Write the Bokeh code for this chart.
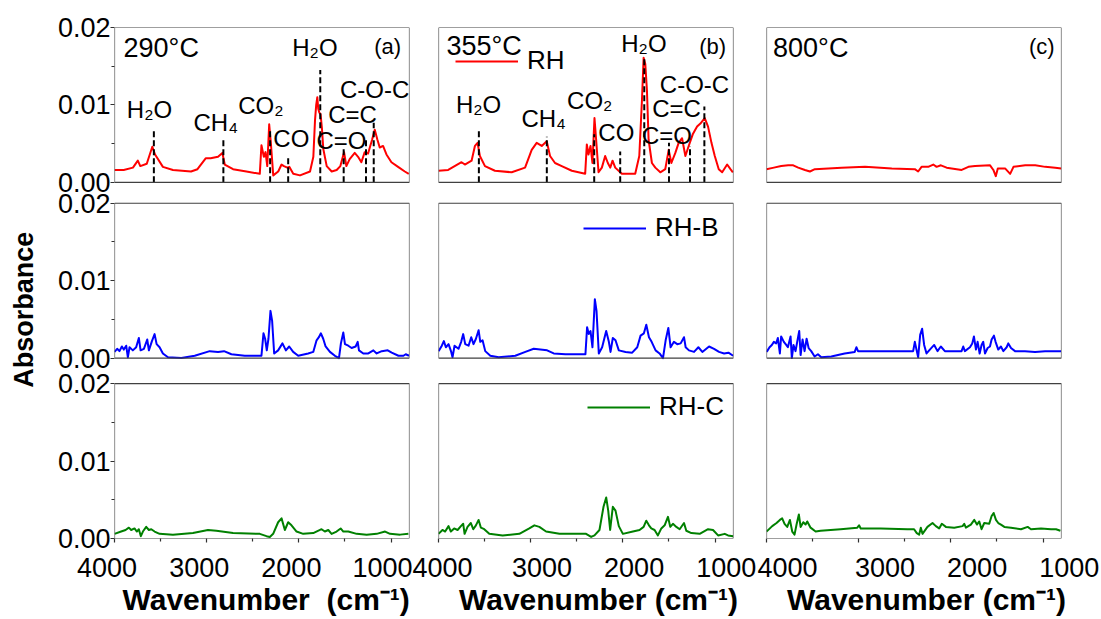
import math
from bokeh.plotting import figure
from bokeh.models import (Range1d, FixedTicker, Label, Legend, LegendItem,
                          BoxAnnotation)
from bokeh.layouts import row
from bokeh.embed import file_html
from bokeh.resources import INLINE

FONT = "Liberation Sans"
NB = "\u00a0"

# ---------------- chart values ----------------
X_TICKS = [4000, 3000, 2000, 1000]
X_TICK_LABELS = ["4000", "3000", "2000", "1000"]
X_MINOR = [3500, 2500, 1500]
Y_TICKS = [0.0, 0.01, 0.02]
Y_TICK_LABELS = ["0.00", "0.01", "0.02"]
Y_MINOR = [0.005, 0.015]

temperatures = ["290°C", "355°C", "800°C"]
panel_tags = ["(a)", "(b)", "(c)"]
samples = ["RH", "RH-B", "RH-C"]
colors = ["#ff0000", "#0000ff", "#008000"]
x_title = ["Wavenumber", "(cm⁻¹)"]
y_title = "Absorbance"

# (wavenumber cm-1, absorbance)
RH_290 = [(4000, 0.0016), (3900, 0.0016), (3800, 0.0019), (3747, 0.0028), (3720, 0.0021),
          (3650, 0.0024), (3590, 0.0046), (3560, 0.0036), (3475, 0.0020), (3366, 0.0016),
          (3170, 0.0014), (3100, 0.0017), (3011, 0.0031), (2957, 0.0031), (2877, 0.0033),
          (2830, 0.0038), (2804, 0.0023), (2714, 0.0017), (2569, 0.0014), (2424, 0.0011),
          (2406, 0.0048), (2380, 0.0033), (2362, 0.0039), (2343, 0.0021), (2322, 0.0075),
          (2304, 0.0051), (2278, 0.0009), (2224, 0.0014), (2188, 0.0023), (2162, 0.0021),
          (2126, 0.0019), (2104, 0.0020), (2061, 0.0011), (1988, 0.0009), (1879, 0.0014),
          (1843, 0.0033), (1825, 0.0080), (1812, 0.0100), (1800, 0.0110), (1790, 0.0095),
          (1778, 0.0090), (1765, 0.0088), (1750, 0.0070), (1735, 0.0043), (1698, 0.0021),
          (1644, 0.0014), (1590, 0.0016), (1550, 0.0021), (1510, 0.0039), (1485, 0.0021),
          (1449, 0.0030), (1394, 0.0038), (1358, 0.0033), (1322, 0.0026), (1286, 0.0039),
          (1250, 0.0037), (1206, 0.0055), (1177, 0.0068), (1148, 0.0055), (1123, 0.0045),
          (1087, 0.0047), (1050, 0.0036), (996, 0.0026), (924, 0.0020), (851, 0.0014),
          (808, 0.0011)]
RH_355 = [(4000, 0.0015), (3895, 0.0016), (3750, 0.0026), (3714, 0.0023), (3641, 0.0028),
          (3605, 0.0047), (3576, 0.0051), (3551, 0.0034), (3496, 0.0021), (3388, 0.0015),
          (3206, 0.0013), (3061, 0.0019), (2989, 0.0042), (2935, 0.0051), (2880, 0.0047),
          (2826, 0.0053), (2790, 0.0034), (2736, 0.0025), (2663, 0.0021), (2554, 0.0015),
          (2409, 0.0011), (2391, 0.0049), (2373, 0.0036), (2351, 0.0047), (2330, 0.0025),
          (2308, 0.0083), (2290, 0.0055), (2264, 0.0013), (2228, 0.0019), (2192, 0.0034),
          (2163, 0.0025), (2137, 0.0019), (2112, 0.0028), (2083, 0.0019), (2011, 0.0011),
          (1866, 0.0011), (1822, 0.0034), (1793, 0.0106), (1775, 0.0161), (1757, 0.0153),
          (1739, 0.0119), (1721, 0.0055), (1685, 0.0025), (1648, 0.0019), (1594, 0.0013),
          (1540, 0.0017), (1503, 0.0042), (1474, 0.0025), (1431, 0.0038), (1395, 0.0051),
          (1358, 0.0057), (1322, 0.0034), (1286, 0.0047), (1242, 0.0062), (1195, 0.0072),
          (1159, 0.0076), (1112, 0.0083), (1076, 0.0072), (1039, 0.0051), (1003, 0.0034),
          (960, 0.0017), (923, 0.0013), (869, 0.0023), (833, 0.0017), (807, 0.0013)]
RH_800 = [(4000, 0.0017), (3920, 0.0019), (3840, 0.0021), (3765, 0.0022), (3710, 0.0022),
          (3656, 0.0019), (3583, 0.0016), (3529, 0.0014), (3475, 0.0017), (3330, 0.0018),
          (3185, 0.0019), (2931, 0.0020), (2641, 0.0018), (2391, 0.0017), (2355, 0.0014),
          (2318, 0.0020), (2246, 0.0020), (2191, 0.0023), (2155, 0.0020), (2108, 0.0022),
          (2046, 0.0019), (1883, 0.0016), (1810, 0.0020), (1738, 0.0021), (1575, 0.0022),
          (1539, 0.0016), (1513, 0.0008), (1491, 0.0018), (1412, 0.0018), (1357, 0.0011),
          (1321, 0.0020), (1194, 0.0022), (1085, 0.0022), (976, 0.0020), (868, 0.0019),
          (803, 0.0018)]
RHB_290 = [(4000, 0.0008), (3971, 0.0012), (3946, 0.0009), (3920, 0.0015), (3899, 0.0011),
           (3873, 0.0016), (3855, 0.0001), (3837, 0.0014), (3801, 0.0010), (3765, 0.0014),
           (3736, 0.0026), (3717, 0.0010), (3681, 0.0012), (3645, 0.0024), (3627, 0.0010),
           (3594, 0.0022), (3565, 0.0031), (3543, 0.0018), (3511, 0.0014), (3475, 0.0006),
           (3420, 0.0001), (3275, 0.0000), (3130, 0.0003), (2967, 0.0009), (2877, 0.0008),
           (2812, 0.0009), (2732, 0.0005), (2587, 0.0003), (2406, 0.0003), (2384, 0.0032),
           (2366, 0.0025), (2348, 0.0010), (2330, 0.0025), (2308, 0.0061), (2290, 0.0048),
           (2268, 0.0006), (2225, 0.0010), (2178, 0.0019), (2141, 0.0010), (2105, 0.0015),
           (2062, 0.0008), (2007, 0.0003), (1899, 0.0006), (1844, 0.0008), (1808, 0.0023),
           (1783, 0.0027), (1761, 0.0032), (1736, 0.0025), (1710, 0.0015), (1663, 0.0008),
           (1609, 0.0003), (1565, 0.0000), (1544, 0.0019), (1518, 0.0033), (1500, 0.0018),
           (1464, 0.0016), (1428, 0.0013), (1384, 0.0015), (1362, 0.0021), (1348, 0.0010),
           (1301, 0.0006), (1247, 0.0006), (1192, 0.0010), (1156, 0.0006), (1101, 0.0009),
           (1036, 0.0010), (993, 0.0007), (920, 0.0003), (866, 0.0003), (841, 0.0005),
           (805, 0.0003)]
RHB_355 = [(4000, 0.0009), (3993, 0.0010), (3964, 0.0016), (3942, 0.0022), (3920, 0.0014),
           (3891, 0.0018), (3862, 0.0008), (3848, 0.0001), (3826, 0.0016), (3783, 0.0012),
           (3754, 0.0021), (3732, 0.0031), (3710, 0.0018), (3674, 0.0016), (3645, 0.0027),
           (3620, 0.0018), (3594, 0.0025), (3565, 0.0036), (3547, 0.0021), (3522, 0.0023),
           (3493, 0.0009), (3438, 0.0003), (3348, 0.0001), (3167, 0.0003), (3058, 0.0008),
           (2967, 0.0012), (2895, 0.0011), (2822, 0.0010), (2750, 0.0006), (2623, 0.0005),
           (2406, 0.0005), (2388, 0.0040), (2370, 0.0031), (2351, 0.0035), (2330, 0.0014),
           (2304, 0.0076), (2286, 0.0061), (2261, 0.0006), (2225, 0.0014), (2181, 0.0035),
           (2152, 0.0021), (2134, 0.0008), (2109, 0.0026), (2080, 0.0023), (2044, 0.0010),
           (1971, 0.0008), (1899, 0.0007), (1844, 0.0014), (1808, 0.0029), (1772, 0.0032),
           (1746, 0.0043), (1717, 0.0027), (1688, 0.0021), (1645, 0.0010), (1602, 0.0006),
           (1565, 0.0000), (1536, 0.0023), (1507, 0.0039), (1482, 0.0014), (1446, 0.0021),
           (1410, 0.0018), (1373, 0.0019), (1337, 0.0027), (1319, 0.0014), (1283, 0.0010),
           (1228, 0.0008), (1181, 0.0014), (1138, 0.0008), (1065, 0.0015), (1011, 0.0012),
           (957, 0.0008), (902, 0.0006), (855, 0.0007), (804, 0.0003)]
RHB_800 = [(4000, 0.0008), (3993, 0.0009), (3967, 0.0014), (3942, 0.0017), (3920, 0.0021),
           (3895, 0.0019), (3877, 0.0026), (3855, 0.0006), (3841, 0.0028), (3812, 0.0021),
           (3786, 0.0017), (3768, 0.0014), (3739, 0.0028), (3725, 0.0000), (3707, 0.0017),
           (3685, 0.0009), (3667, 0.0021), (3645, 0.0035), (3630, 0.0004), (3609, 0.0024),
           (3587, 0.0009), (3565, 0.0025), (3543, 0.0013), (3515, 0.0009), (3478, 0.0002),
           (3442, 0.0005), (3406, 0.0001), (3297, 0.0002), (3152, 0.0006), (3043, 0.0008),
           (3025, 0.0014), (3007, 0.0009), (2826, 0.0009), (2572, 0.0009), (2409, 0.0009),
           (2391, 0.0021), (2373, 0.0011), (2355, 0.0001), (2333, 0.0030), (2312, 0.0038),
           (2290, 0.0017), (2264, 0.0006), (2228, 0.0011), (2181, 0.0017), (2145, 0.0009),
           (2109, 0.0015), (2065, 0.0009), (1957, 0.0009), (1884, 0.0009), (1866, 0.0015),
           (1848, 0.0009), (1793, 0.0014), (1768, 0.0019), (1750, 0.0028), (1728, 0.0011),
           (1710, 0.0021), (1688, 0.0006), (1667, 0.0017), (1649, 0.0021), (1630, 0.0006),
           (1601, 0.0013), (1576, 0.0015), (1558, 0.0024), (1533, 0.0029), (1515, 0.0021),
           (1486, 0.0011), (1457, 0.0015), (1431, 0.0009), (1395, 0.0014), (1377, 0.0019),
           (1348, 0.0013), (1304, 0.0009), (1196, 0.0009), (1087, 0.0008), (978, 0.0009),
           (870, 0.0009), (805, 0.0009)]
RHC_290 = [(4000, 0.0006), (3928, 0.0009), (3880, 0.0011), (3844, 0.0014), (3819, 0.0011),
           (3783, 0.0013), (3757, 0.0009), (3736, 0.0012), (3714, 0.0003), (3692, 0.0009),
           (3656, 0.0015), (3627, 0.0011), (3601, 0.0012), (3565, 0.0009), (3511, 0.0006),
           (3366, 0.0005), (3149, 0.0007), (2986, 0.0011), (2895, 0.0010), (2714, 0.0007),
           (2424, 0.0006), (2351, 0.0003), (2315, 0.0002), (2279, 0.0006), (2225, 0.0021),
           (2188, 0.0026), (2152, 0.0011), (2116, 0.0021), (2080, 0.0017), (2025, 0.0009),
           (1953, 0.0006), (1844, 0.0007), (1754, 0.0012), (1718, 0.0009), (1681, 0.0011),
           (1645, 0.0006), (1591, 0.0009), (1547, 0.0013), (1518, 0.0009), (1464, 0.0009),
           (1373, 0.0006), (1265, 0.0005), (1156, 0.0006), (1065, 0.0009), (1011, 0.0006),
           (902, 0.0005), (812, 0.0006)]
RHC_355 = [(4000, 0.0006), (3957, 0.0011), (3928, 0.0009), (3891, 0.0016), (3866, 0.0009),
           (3830, 0.0013), (3793, 0.0011), (3757, 0.0016), (3732, 0.0019), (3717, 0.0006),
           (3685, 0.0015), (3649, 0.0020), (3623, 0.0012), (3594, 0.0017), (3565, 0.0024),
           (3540, 0.0014), (3504, 0.0012), (3449, 0.0006), (3304, 0.0004), (3123, 0.0006),
           (3015, 0.0013), (2960, 0.0017), (2906, 0.0015), (2833, 0.0009), (2688, 0.0006),
           (2399, 0.0006), (2344, 0.0002), (2308, 0.0004), (2254, 0.0011), (2210, 0.0041),
           (2181, 0.0053), (2159, 0.0036), (2138, 0.0011), (2109, 0.0041), (2080, 0.0036),
           (2044, 0.0016), (2000, 0.0006), (1891, 0.0009), (1819, 0.0011), (1775, 0.0015),
           (1746, 0.0023), (1717, 0.0017), (1692, 0.0013), (1656, 0.0011), (1620, 0.0004),
           (1583, 0.0013), (1547, 0.0017), (1511, 0.0028), (1486, 0.0015), (1457, 0.0019),
           (1420, 0.0015), (1384, 0.0012), (1337, 0.0020), (1312, 0.0010), (1257, 0.0007),
           (1167, 0.0006), (1076, 0.0012), (1022, 0.0011), (967, 0.0004), (895, 0.0006),
           (859, 0.0004), (804, 0.0003)]
RHC_800 = [(4000, 0.0009), (3938, 0.0016), (3891, 0.0020), (3855, 0.0024), (3830, 0.0026),
           (3804, 0.0019), (3775, 0.0015), (3746, 0.0024), (3721, 0.0009), (3696, 0.0005),
           (3674, 0.0018), (3649, 0.0031), (3630, 0.0015), (3601, 0.0021), (3576, 0.0018),
           (3558, 0.0022), (3522, 0.0014), (3467, 0.0009), (3413, 0.0010), (3196, 0.0012),
           (3015, 0.0014), (2996, 0.0017), (2978, 0.0013), (2761, 0.0013), (2471, 0.0012),
           (2399, 0.0012), (2370, 0.0007), (2344, 0.0005), (2326, 0.0014), (2308, 0.0006),
           (2254, 0.0015), (2199, 0.0020), (2163, 0.0016), (2127, 0.0013), (2098, 0.0019),
           (2054, 0.0015), (1964, 0.0014), (1873, 0.0016), (1855, 0.0019), (1837, 0.0014),
           (1783, 0.0018), (1746, 0.0024), (1717, 0.0018), (1692, 0.0022), (1667, 0.0012),
           (1638, 0.0020), (1584, 0.0019), (1558, 0.0029), (1536, 0.0033), (1511, 0.0024),
           (1486, 0.0020), (1457, 0.0018), (1420, 0.0015), (1348, 0.0014), (1239, 0.0012),
           (1167, 0.0015), (1131, 0.0012), (1022, 0.0013), (913, 0.0012), (859, 0.0012),
           (812, 0.0010)]

spectra = [[RH_290, RH_355, RH_800],
           [RHB_290, RHB_355, RHB_800],
           [RHC_290, RHC_355, RHC_800]]

# assigned bands (RH panels a and b)
band_names = ["H₂O", "CH₄", "CO₂", "CO", "H₂O", "C=O", "C=C", "C-O-C"]
band_wn_290 = [3573, 2819, 2312, 2116, 1768, 1514, 1272, 1188]
band_top_290 = [0.0067, 0.0058, 0.0069, 0.0035, 0.0145, 0.0043, 0.0056, 0.0077]
band_label_wn_290 = [3620, 2902, 2413, 2082, 1826, 1538, 1418, 1179]
band_label_ab_290 = [0.0094, 0.0077, 0.0099, 0.0056, 0.0174, 0.0054, 0.0087, 0.0120]
band_wn_355 = [3562, 2825, 2311, 2029, 1768, 1500, 1272, 1116]
band_top_355 = [0.0070, 0.0059, 0.0062, 0.0040, 0.0159, 0.0051, 0.0047, 0.0098]
band_label_wn_355 = [3565, 2859, 2359, 2071, 1772, 1522, 1418, 1223]
band_label_ab_355 = [0.0100, 0.0083, 0.0106, 0.0064, 0.0179, 0.0061, 0.0096, 0.0127]

bands = {0: (band_wn_290, band_top_290, band_label_wn_290, band_label_ab_290),
         1: (band_wn_355, band_top_355, band_label_wn_355, band_label_ab_355)}

temp_pos = [(3902, 0.0173), (3913, 0.0176), (3929, 0.0173)]
tag_pos = [(891, 0.0176), (880, 0.0176), (875, 0.0176)]

# ---------------- layout ----------------
X_START, X_END = 4000, 800
PANEL_SPAN = 0.02                      # absorbance span of one panel
ROW_OFFSET = [0.0460, 0.0233, 0.0]     # vertical stacking of the three rows
Y_TOP = ROW_OFFSET[0] + PANEL_SPAN

TITLE_W = 40
COL_L = [74, 26, 9]
COL_R = [3, 24, 39]
FRAME_W = 295
TOP_B = 27
BOTTOM_B = 75
FRAME_H = 516
FIG_H = TOP_B + FRAME_H + BOTTOM_B
LEG_LOC = [(17, 462), (145, 295), (149, 116)]

# nbsp padding of tick labels (lead, trail) per column, per tick
TICK_PAD = [[(0, 2), (0, 2), (0, 2), (0, 0)],
            [(0, 0), (3, 0), (3, 0), (3, 0)],
            [(0, 0), (7, 0), (7, 0), (7, 0)]]
TITLE_LEAD = [1, 3, 3]


def style_axis(ax):
    ax.axis_line_color = None
    ax.major_tick_line_color = "#303030"
    ax.minor_tick_line_color = "#303030"
    ax.major_tick_line_width = 1.2
    ax.minor_tick_line_width = 1.2
    ax.major_tick_in = 0
    ax.major_tick_out = 4
    ax.minor_tick_in = 0
    ax.minor_tick_out = 3
    ax.major_label_text_font = FONT
    ax.major_label_text_font_size = "27px"
    ax.major_label_text_color = "black"


def column_figure(c):
    p = figure(width=COL_L[c] + FRAME_W + COL_R[c], height=FIG_H,
               x_range=Range1d(X_START, X_END), y_range=Range1d(0, Y_TOP),
               output_backend="svg", toolbar_location=None,
               x_axis_location="below",
               y_axis_location="left" if c == 0 else None,
               min_border_left=COL_L[c], min_border_right=COL_R[c],
               min_border_top=TOP_B, min_border_bottom=BOTTOM_B)
    p.grid.visible = False
    p.outline_line_color = None
    p.background_fill_color = "white"
    p.border_fill_color = "white"

    # x axis (bottom row only)
    ax = p.xaxis[0]
    style_axis(ax)
    ax.ticker = FixedTicker(ticks=X_TICKS, minor_ticks=X_MINOR)
    ax.major_label_overrides = {
        t: NB * pad[0] + lab + NB * pad[1]
        for t, lab, pad in zip(X_TICKS, X_TICK_LABELS, TICK_PAD[c])}
    ax.major_label_standoff = 10
    sep = NB + " " if c == 0 else " "
    ax.axis_label = NB * TITLE_LEAD[c] + x_title[0] + sep + x_title[1]
    ax.axis_label_text_font = FONT
    ax.axis_label_text_font_size = "30px"
    ax.axis_label_text_font_style = "bold"
    ax.axis_label_text_color = "black"
    ax.axis_label_standoff = -3

    # y axis (left column only), one 0-0.02 scale per row
    if c == 0:
        ay = p.yaxis[0]
        style_axis(ay)
        ticks, minors, overrides = [], [], {}
        for off in ROW_OFFSET:
            for t, lab in zip(Y_TICKS, Y_TICK_LABELS):
                v = round(off + t, 6)
                ticks.append(v)
                overrides[v] = lab
            for m in Y_MINOR:
                minors.append(round(off + m, 6))
        ay.ticker = FixedTicker(ticks=ticks, minor_ticks=minors)
        ay.major_label_overrides = overrides
        ay.major_label_standoff = 0

    for r in range(3):
        off = ROW_OFFSET[r]
        p.add_layout(BoxAnnotation(left=X_END, right=X_START, bottom=off,
                                   top=off + PANEL_SPAN, fill_alpha=0,
                                   line_color="#404040", line_width=1.2,
                                   line_alpha=1.0))
        data = spectra[r][c]
        wn = [d[0] for d in data]
        ab = [d[1] + off for d in data]
        ren = p.line(wn, ab, line_color=colors[r], line_width=2, line_join="round")

        if r == 0 and c in bands:
            lw, lt, tw, ta = bands[c]
            p.segment(x0=lw, y0=[off] * len(lw), x1=lw, y1=[t + off for t in lt],
                      line_color="black", line_width=2, line_dash="6 3")
            for name, x, y in zip(band_names, tw, ta):
                p.add_layout(Label(x=x, y=y + off, text=name, text_font=FONT,
                                   text_font_size="24px", text_color="black",
                                   text_align="center", text_baseline="middle"))
        if r == 0:
            tx, ty = temp_pos[c]
            p.add_layout(Label(x=tx, y=ty + off, text=temperatures[c], text_font=FONT,
                               text_font_size="27px", text_color="black",
                               text_align="left", text_baseline="middle"))
            gx, gy = tag_pos[c]
            p.add_layout(Label(x=gx, y=gy + off, text=panel_tags[c], text_font=FONT,
                               text_font_size="22px", text_color="black",
                               text_align="right", text_baseline="middle"))
        if c == 1:
            leg = Legend(items=[LegendItem(label=samples[r], renderers=[ren])],
                         location=LEG_LOC[r], orientation="vertical",
                         border_line_color=None, background_fill_alpha=0,
                         label_text_font=FONT, label_text_font_size="26px",
                         label_text_color="black",
                         glyph_width=63, glyph_height=30, label_height=30,
                         label_standoff=9, padding=0, margin=0, spacing=0)
            p.add_layout(leg)
    return p


cols = [column_figure(c) for c in range(3)]

# y-axis title in its own strip; its frame is aligned with the panels' frame
tf = figure(width=TITLE_W, height=FIG_H, x_range=Range1d(0, 1), y_range=Range1d(0, 1),
            output_backend="svg", toolbar_location=None,
            x_axis_location=None, y_axis_location=None,
            min_border_left=0, min_border_right=0,
            min_border_top=TOP_B, min_border_bottom=BOTTOM_B,
            outline_line_color=None)
tf.grid.visible = False
tf.add_layout(Label(x=0.575, y=0.4477, text=y_title, angle=math.pi / 2,
                    text_font=FONT, text_font_size="27px", text_font_style="bold",
                    text_color="black", text_align="center", text_baseline="middle"))

layout = row(tf, *cols)

open("out.html", "w").write(file_html(layout, INLINE))
